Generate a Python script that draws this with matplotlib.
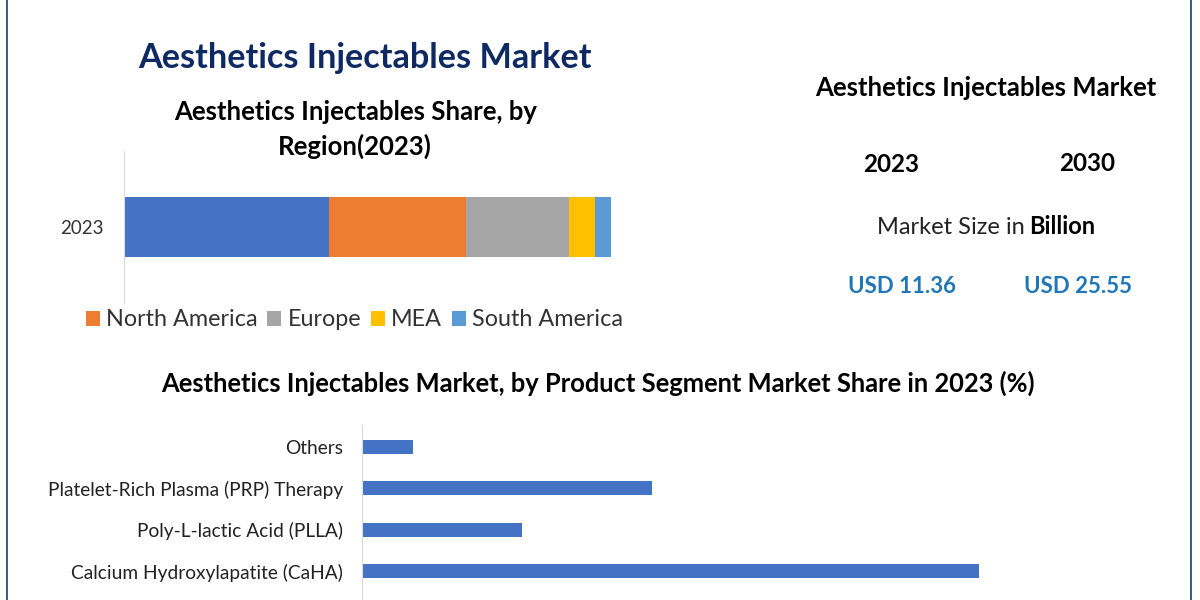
import matplotlib
matplotlib.use("Agg")
import matplotlib.pyplot as plt
from matplotlib.patches import Rectangle

plt.rcParams['font.family'] = ['Lato', 'DejaVu Sans']

W, H = 1200, 600

region_year = ["2023"]
regions = ["Asia Pacific", "North America", "Europe", "MEA", "South America"]
region_values = [42.0, 28.2, 21.2, 5.4, 3.2]
region_colors = ["#4472C4", "#ED7D31", "#A5A5A5", "#FFC000", "#5B9BD5"]

products = ["Calcium Hydroxylapatite (CaHA)", "Poly-L-lactic Acid (PLLA)",
            "Platelet-Rich Plasma (PRP) Therapy", "Others"]
product_values = [61.7, 16.0, 29.0, 5.1]

fig = plt.figure(figsize=(12, 6), dpi=100, facecolor="white")


def axes_px(x0, y0, x1, y1):
    return fig.add_axes([x0 / W, 1 - y1 / H, (x1 - x0) / W, (y1 - y0) / H])


def label(x, y, s, size, color="black", weight="normal", ha="center", va="center"):
    return fig.text(x / W, 1 - y / H, s, fontsize=size, color=color, fontweight=weight, ha=ha, va=va)


# outer frame
fig.add_artist(Rectangle((6.5 / W, -0.1), (1190.5 - 6.5) / W, 1.2, transform=fig.transFigure,
                         fill=False, edgecolor="#2F5F7F", linewidth=1.4))

# stacked bar
ax1 = axes_px(124, 151, 611, 303)
left = 0
for name, val, col in zip(regions, region_values, region_colors):
    ax1.barh(region_year, [val], left=left, height=0.4, color=col, label=name)
    left += val
ax1.set_xlim(0, sum(region_values))
ax1.set_ylim(-0.5, 0.5)
for s in ["top", "right", "bottom"]:
    ax1.spines[s].set_visible(False)
ax1.spines["left"].set_color("#D9D9D9")
ax1.xaxis.set_visible(False)
ax1.tick_params(axis="y", length=0, pad=15, labelsize=13.5, labelcolor="#333333")

handles, labels = ax1.get_legend_handles_labels()
fig.legend(handles[1:], labels[1:], loc="center", bbox_to_anchor=(354.5 / W, 1 - 320 / H), ncol=4, frameon=False,
           fontsize=16.8, labelcolor="#333333", handlelength=0.6, handleheight=0.6, handletextpad=0.27,
           columnspacing=0.42, borderpad=0)

# product bars
ax2 = axes_px(362, 425, 1100, 600)
ypos = list(range(len(products)))
ax2.barh(ypos, product_values, height=0.34, color="#4472C4")
ax2.set_xlim(0, 73.8)
ax2.set_ylim(-0.70, 3.53)
ax2.set_yticks(ypos, products)
for s in ["top", "right", "bottom"]:
    ax2.spines[s].set_visible(False)
ax2.spines["left"].set_color("#D9D9D9")
ax2.xaxis.set_visible(False)
ax2.tick_params(axis="y", length=0, pad=13.7, labelsize=13.8, labelcolor="#222222")

# titles
label(365, 58, "Aesthetics Injectables Market", 24.7, "#0F2A63", "bold")
label(356, 112, "Aesthetics Injectables Share, by", 18.5, "black", "bold")
label(355, 146, "Region(2023)", 18.5, "black", "bold")
label(597.5, 383, "Aesthetics Injectables Market, by Product Segment Market Share in 2023 (%)", 18.4, "black", "bold")

# side panel
label(985.5, 88, "Aesthetics Injectables Market", 18.5, "black", "bold")
label(891, 165, "2023", 17.5, "black", "bold")
label(1087, 163, "2030", 17.5, "black", "bold")
label(1025, 234, "Market Size in", 17, "#222222", ha="right", va="baseline")
label(1029, 234, "Billion", 17, "black", "bold", ha="left", va="baseline")
label(902, 287, "USD 11.36", 16, "#1F77B8", "bold")
label(1077.5, 287, "USD 25.55", 16, "#1F77B8", "bold")

fig.savefig("out.png", dpi=100)
